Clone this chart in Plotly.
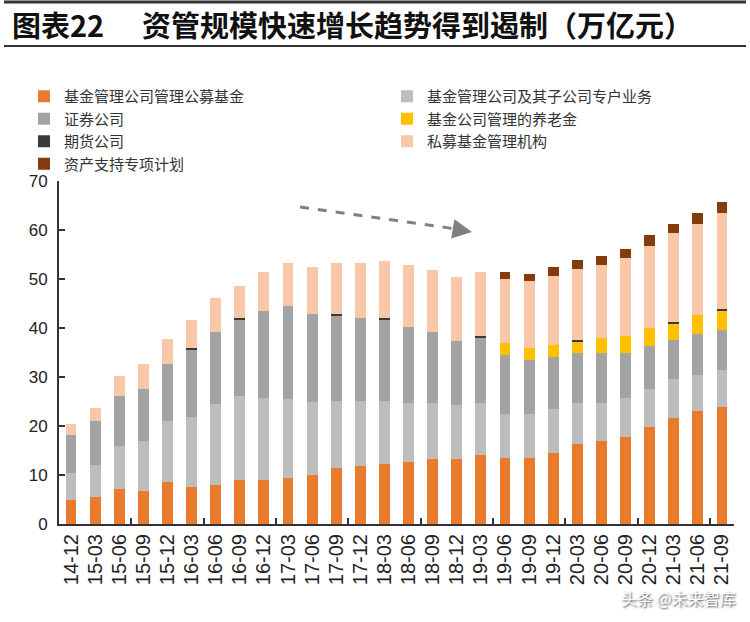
import plotly.graph_objects as go

periods = ["14-12", "15-03", "15-06", "15-09", "15-12", "16-03", "16-06", "16-09", "16-12",
           "17-03", "17-06", "17-09", "17-12", "18-03", "18-06", "18-09", "18-12",
           "19-03", "19-06", "19-09", "19-12", "20-03", "20-06", "20-09", "20-12",
           "21-03", "21-06", "21-09"]

public_funds = [4.8, 5.5, 7.1, 6.7, 8.5, 7.5, 8.0, 8.9, 8.9, 9.4, 9.9, 11.4, 11.8, 12.3, 12.6, 13.2, 13.2,
                14.1, 13.5, 13.5, 14.5, 16.4, 16.9, 17.7, 19.8, 21.6, 23.0, 23.9]
special_accounts = [5.6, 6.6, 8.9, 10.2, 12.6, 14.4, 16.4, 17.3, 16.8, 16.2, 14.9, 13.8, 13.4, 12.9, 12.1, 11.5, 11.1,
                    10.6, 8.9, 9.0, 8.9, 8.3, 7.8, 8.0, 7.8, 8.0, 7.5, 7.6]
securities = [7.8, 8.9, 10.1, 10.6, 11.6, 13.7, 14.7, 15.5, 17.7, 18.8, 18.1, 17.4, 16.8, 16.5, 15.5, 14.5, 13.1,
              13.3, 12.0, 10.9, 10.7, 10.2, 10.2, 9.2, 8.7, 8.0, 8.2, 8.0]
pension = [0, 0, 0, 0, 0, 0, 0, 0, 0, 0, 0, 0, 0, 0, 0, 0, 0,
           0, 2.6, 2.6, 2.5, 2.4, 3.1, 3.5, 3.6, 3.4, 3.9, 4.1]
futures = [0, 0, 0, 0, 0, 0.3, 0, 0.3, 0, 0, 0, 0.3, 0, 0.3, 0, 0, 0,
           0.3, 0, 0, 0, 0.3, 0, 0, 0, 0.3, 0, 0.3]
private_funds = [2.2, 2.7, 4.2, 5.2, 5.1, 5.7, 7.1, 6.5, 8.0, 8.9, 9.5, 10.4, 11.3, 11.7, 12.6, 12.6, 13.0,
                 13.1, 13.1, 13.6, 14.0, 14.4, 14.8, 15.8, 16.8, 18.0, 18.6, 19.6]
abs_plans = [0, 0, 0, 0, 0, 0, 0, 0, 0, 0, 0, 0, 0, 0, 0, 0, 0,
             0, 1.4, 1.4, 1.8, 1.9, 1.9, 1.9, 2.2, 1.9, 2.3, 2.3]

series = [
    ("基金管理公司管理公募基金", public_funds, "#E97B2C"),
    ("基金管理公司及其子公司专户业务", special_accounts, "#BDBDBD"),
    ("证券公司", securities, "#A3A3A3"),
    ("基金公司管理的养老金", pension, "#FFC000"),
    ("期货公司", futures, "#3A3A3A"),
    ("私募基金管理机构", private_funds, "#F8C8A8"),
    ("资产支持专项计划", abs_plans, "#843C0C"),
]

FONT = "Liberation Sans, Noto Sans CJK SC, sans-serif"
CJK = "Noto Sans CJK SC, sans-serif"

fig = go.Figure()
for name, vals, color in series:
    fig.add_trace(go.Bar(x=periods, y=vals, name=name, marker=dict(color=color, line=dict(width=0))))

# helper axis for the every-3-categories boundary ticks
boundary_ticks = [2.5, 5.5, 8.5, 11.5, 14.5, 17.5, 20.5, 23.5, 26.5]
fig.add_trace(go.Scatter(x=[None], y=[None], xaxis="x2", showlegend=False, hoverinfo="skip"))

W, H = 750, 622
L, R, T, B = 59, 16, 181, 98
pw, ph = W - L - R, H - T - B

def px(x):
    return (x - L) / pw

def py(y):
    return (H - B - y) / ph

fig.update_layout(
    width=W, height=H,
    margin=dict(l=L, r=R, t=T, b=B),
    paper_bgcolor="white", plot_bgcolor="white",
    barmode="stack", bargap=0.55,
    font=dict(family=FONT, size=15, color="#333333"),
    xaxis=dict(type="category", range=[-0.5, 27.5], showline=True, linecolor="#333333", linewidth=2,
               ticks="", tickangle=-90, tickfont=dict(size=20, color="#222222", family=FONT),
               showgrid=False, zeroline=False),
    xaxis2=dict(overlaying="x", anchor="y", range=[-0.5, 27.5], tickvals=boundary_ticks,
                ticks="inside", ticklen=6, tickwidth=2, tickcolor="#333333",
                showticklabels=False, showgrid=False, zeroline=False, showline=False, side="bottom"),
    yaxis=dict(range=[0, 70], dtick=10, showline=True, linecolor="#333333", linewidth=2,
               ticks="inside", ticklen=6, tickwidth=2, tickcolor="#333333",
               tickfont=dict(size=17, color="#222222", family=FONT), showgrid=False, zeroline=False,
               ticklabelstandoff=6),
    legend=dict(orientation="h", x=px(25), y=py(80), xanchor="left", yanchor="top",
                entrywidth=318, entrywidthmode="pixels", traceorder="normal",
                font=dict(size=15, color="#333333", family=CJK), bgcolor="rgba(0,0,0,0)"),
    showlegend=True,
)

# title and rules
fig.add_shape(type="line", xref="paper", yref="paper", x0=px(4), x1=px(746), y0=py(2), y1=py(2),
              line=dict(color="#333333", width=3))
fig.add_shape(type="line", xref="paper", yref="paper", x0=px(4), x1=px(746), y0=py(46), y1=py(46),
              line=dict(color="#333333", width=2))
fig.add_annotation(xref="paper", yref="paper", x=px(10), y=py(24), xanchor="left", yanchor="middle",
                   text="<b>图表22</b>", showarrow=False,
                   font=dict(size=29, color="#111111", family=CJK))
fig.add_annotation(xref="paper", yref="paper", x=px(140), y=py(24), xanchor="left", yanchor="middle",
                   text="<b>资管规模快速增长趋势得到遏制（万亿元）</b>", showarrow=False,
                   font=dict(size=29, color="#111111", family=CJK))

# dashed trend arrow
fig.add_shape(type="line", xref="paper", yref="paper", x0=px(300), y0=py(207), x1=px(456), y1=py(229),
              line=dict(color="#808080", width=3, dash="dash"))
fig.add_annotation(xref="paper", yref="paper", x=px(472), y=py(232), ax=-18, ay=-3,
                   showarrow=True, arrowhead=2, arrowsize=1.3, arrowwidth=3, arrowcolor="#808080", text="")

# watermark
fig.add_annotation(xref="paper", yref="paper", x=px(738), y=py(598), xanchor="right", yanchor="middle",
                   text="头条 @未来智库", showarrow=False,
                   font=dict(size=16, color="white", family=CJK, shadow="1px 1px 2px #444"))

fig.write_html("out.html")
